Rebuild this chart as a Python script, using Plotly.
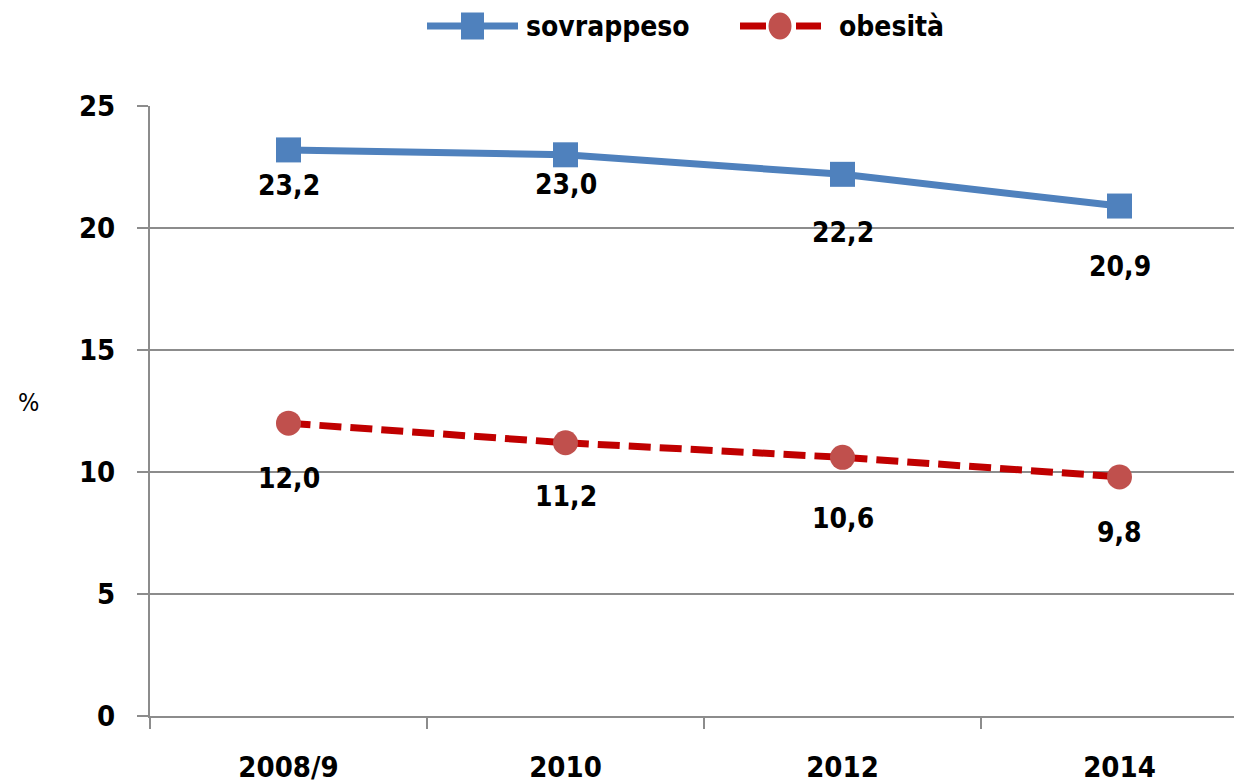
import plotly.graph_objects as go

categories = ["2008/9", "2010", "2012", "2014"]
sovrappeso = [23.2, 23.0, 22.2, 20.9]
obesita = [12.0, 11.2, 10.6, 9.8]
label_sovrappeso = ["23,2", "23,0", "22,2", "20,9"]
label_obesita = ["12,0", "11,2", "10,6", "9,8"]
y_ticks = [0, 5, 10, 15, 20, 25]

# label offsets (px below point)
shift_sov = [-36, -30, -58, -60]
shift_obe = [-55, -54, -61, -56]

FONT = "DejaVu Sans Condensed, Liberation Sans Narrow, sans-serif"
BLUE = "#4F81BD"
RED_LINE = "#C00000"
RED_MARK = "#C0504D"

# page has 8px body margin; figure fills remaining viewport
W, H = 1234, 775
L, T, B, R = 142, 98, 67, 0
PW, PH = W - L - R, H - T - B
CAT_PX = 277.0


def px(sx):
    # screen x -> paper x
    return (sx - 8 - L) / PW


def py(sy):
    # screen y -> paper y
    return (H - B - (sy - 8)) / PH


fig = go.Figure()
fig.add_trace(go.Scatter(
    x=categories, y=sovrappeso, name="sovrappeso", mode="lines+markers",
    line=dict(color=BLUE, width=7),
    marker=dict(symbol="square", size=25, color=BLUE),
    showlegend=False,
))
fig.add_trace(go.Scatter(
    x=categories, y=obesita, name="obesità", mode="lines+markers",
    line=dict(color=RED_LINE, width=7, dash="22px,9px"),
    marker=dict(symbol="circle", size=25, color=RED_MARK),
    showlegend=False,
))

for i, (v, t, s) in enumerate(zip(sovrappeso, label_sovrappeso, shift_sov)):
    fig.add_annotation(x=i, y=v, text="<b>%s</b>" % t, showarrow=False,
                       yshift=s, font=dict(size=28, color="black", family=FONT))
for i, (v, t, s) in enumerate(zip(obesita, label_obesita, shift_obe)):
    fig.add_annotation(x=i, y=v, text="<b>%s</b>" % t, showarrow=False,
                       yshift=s, font=dict(size=28, color="black", family=FONT))

# y-axis title
fig.add_annotation(xref="paper", yref="paper", x=px(28), y=py(402), text="%",
                   xanchor="center", yanchor="middle",
                   showarrow=False, font=dict(size=25, color="black", family=FONT))

# custom legend (long line samples like the original)
ly = py(26)
fig.add_shape(type="line", xref="paper", yref="paper", x0=px(427), x1=px(518),
              y0=ly, y1=ly, line=dict(color=BLUE, width=7))
fig.add_shape(type="rect", xref="paper", yref="paper",
              x0=px(461), x1=px(484), y0=py(39.5), y1=py(12.5),
              fillcolor=BLUE, line=dict(width=0))
fig.add_annotation(xref="paper", yref="paper", x=px(524), y=ly,
                   xanchor="left", yanchor="middle",
                   text="<b>sovrappeso</b>", showarrow=False,
                   font=dict(size=28, color="black", family=FONT))
fig.add_shape(type="line", xref="paper", yref="paper", x0=px(740), x1=px(766),
              y0=ly, y1=ly, line=dict(color=RED_LINE, width=7))
fig.add_shape(type="line", xref="paper", yref="paper", x0=px(796), x1=px(821),
              y0=ly, y1=ly, line=dict(color=RED_LINE, width=7))
fig.add_shape(type="circle", xref="paper", yref="paper",
              x0=px(768.5), x1=px(791.5), y0=py(39.5), y1=py(12.5),
              fillcolor=RED_MARK, line=dict(width=0))
fig.add_annotation(xref="paper", yref="paper", x=px(837), y=ly,
                   xanchor="left", yanchor="middle",
                   text="<b>obesità</b>", showarrow=False,
                   font=dict(size=28, color="black", family=FONT))

fig.update_layout(
    width=W, height=H,
    margin=dict(l=L, r=R, t=T, b=B),
    paper_bgcolor="white", plot_bgcolor="white",
    font=dict(family=FONT, color="black"),
    showlegend=False,
    xaxis=dict(
        type="category", categoryorder="array", categoryarray=categories,
        range=[-0.5, -0.5 + PW / CAT_PX], tickson="boundaries", ticks="outside",
        ticklen=11, tickcolor="#8C8C8C", tickwidth=2, showline=True,
        linecolor="#8C8C8C", linewidth=2, showgrid=False, zeroline=False,
        automargin=False,
        tickfont=dict(size=29, family=FONT, color="black", weight="bold"),
        ticklabelstandoff=24,
    ),
    yaxis=dict(
        range=[0, 25], tickvals=y_ticks, ticks="outside", ticklen=11,
        tickcolor="#8C8C8C", tickwidth=2, showline=True, linecolor="#8C8C8C",
        linewidth=2, showgrid=True, gridcolor="#8C8C8C", gridwidth=2,
        zeroline=False, automargin=False,
        tickfont=dict(size=29, family=FONT, color="black", weight="bold"),
        ticklabelstandoff=16,
    ),
)

fig.write_html("out.html")
